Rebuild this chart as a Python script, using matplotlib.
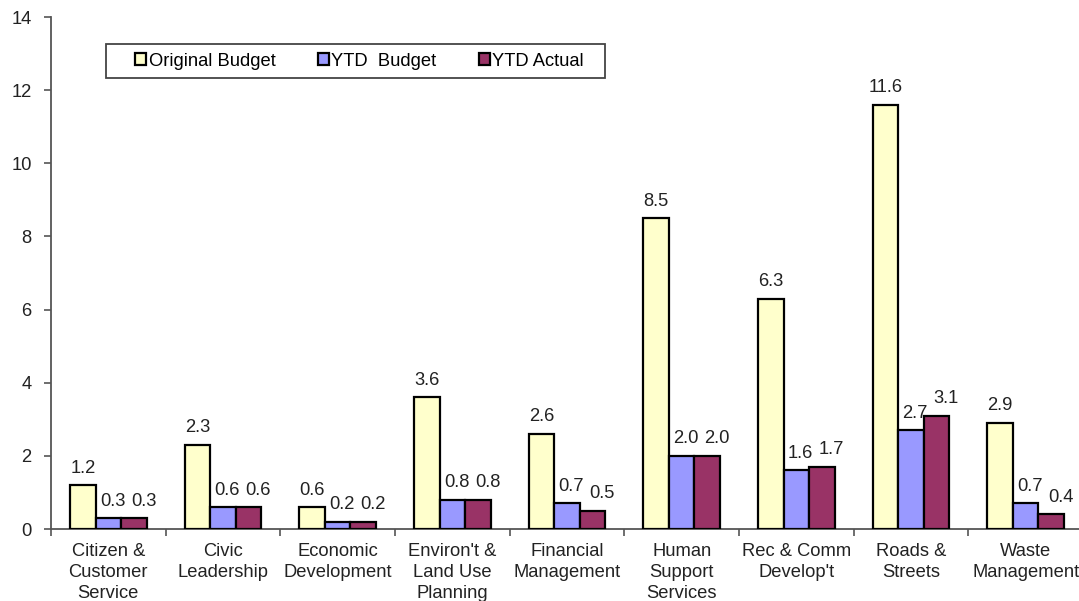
import matplotlib
matplotlib.use("Agg")
import matplotlib.pyplot as plt
import numpy as np
from matplotlib.patches import Rectangle

categories = ["Citizen &\nCustomer\nService", "Civic\nLeadership", "Economic\nDevelopment",
              "Environ't &\nLand Use\nPlanning", "Financial\nManagement", "Human\nSupport\nServices",
              "Rec & Comm\nDevelop't", "Roads &\nStreets", "Waste\nManagement"]
original_budget = [1.2, 2.3, 0.6, 3.6, 2.6, 8.5, 6.3, 11.6, 2.9]
ytd_budget = [0.3, 0.6, 0.2, 0.8, 0.7, 2.0, 1.6, 2.7, 0.7]
ytd_actual = [0.3, 0.6, 0.2, 0.8, 0.5, 2.0, 1.7, 3.1, 0.4]
series_names = ["Original Budget", "YTD  Budget", "YTD Actual"]
y_ticks = [0, 2, 4, 6, 8, 10, 12, 14]

plt.rcParams['font.family'] = ['Liberation Sans', 'DejaVu Sans']
colors = ["#FFFFCC", "#9999FF", "#993366"]
label_dx = [0, 3, 7]  # points
FS = 13.2

W, H = 1079, 601
fig = plt.figure(figsize=(W / 100, H / 100), dpi=100)
ax = fig.add_axes([51 / W, (H - 529) / H, 1032 / W, 512 / H])

x = np.arange(len(categories))
bw = 0.222
series = [original_budget, ytd_budget, ytd_actual]
handles = []
for i, (vals, name, col) in enumerate(zip(series, series_names, colors)):
    pos = x + (i - 1) * bw
    b = ax.bar(pos, vals, width=bw, color=col, edgecolor="black", linewidth=1.6, label=name, zorder=3)
    handles.append(b)
    for xp, v in zip(pos, vals):
        ax.annotate(f"{v:.1f}", (xp, v), xytext=(label_dx[i], 9), textcoords="offset points",
                    ha="center", va="baseline", fontsize=FS, color="#222222")

ax.set_xlim(-0.5, len(categories) - 0.5)
ax.set_ylim(0, 14)
ax.set_yticks(y_ticks)
ax.set_yticklabels([str(t) for t in y_ticks], fontsize=FS)
ax.set_xticks(x)
ax.set_xticklabels(categories, fontsize=FS, linespacing=1.3, color="#222222")
ax.set_xticks(np.arange(len(categories) + 1) - 0.5, minor=True)
ax.tick_params(axis="x", which="major", length=0, pad=10)
ax.tick_params(axis="x", which="minor", length=5, width=1.2, color="#555555", direction="out")
ax.tick_params(axis="y", length=5, width=1.2, color="#555555", pad=9, labelcolor="#222222")
for s in ["top", "right"]:
    ax.spines[s].set_visible(False)
for s in ["left", "bottom"]:
    ax.spines[s].set_color("#555555")
    ax.spines[s].set_linewidth(1.3)

# legend frame
fig.patches.append(Rectangle((106 / W, 1 - 78 / H), (605 - 106) / W, (78 - 44) / H,
                             transform=fig.transFigure, facecolor="white",
                             edgecolor="#444444", linewidth=1.3, zorder=5))
leg = fig.legend(handles=handles, labels=series_names, ncol=3, loc="center",
                 bbox_to_anchor=((106 + 605) / 2 / W + 4 / W, 1 - 61 / H), frameon=False,
                 fontsize=FS, handlelength=0.6, handleheight=0.6, handletextpad=0.15,
                 columnspacing=2.3, borderaxespad=0)
leg.set_zorder(6)

fig.savefig("out.png", dpi=100)
